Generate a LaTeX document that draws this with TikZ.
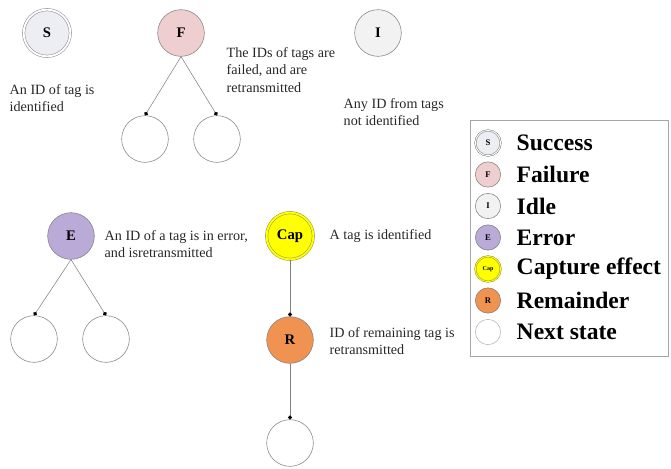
\documentclass[tikz,border=0pt]{standalone}
\usepackage{fontspec}
\setmainfont{Liberation Serif}
\usetikzlibrary{arrows.meta}

\definecolor{sfill}{RGB}{236,238,244}
\definecolor{ffill}{RGB}{238,206,206}
\definecolor{ifill}{RGB}{242,242,242}
\definecolor{efill}{RGB}{186,170,216}
\definecolor{capfill}{RGB}{255,255,0}
\definecolor{rfill}{RGB}{240,146,80}

\begin{document}
\begin{tikzpicture}[x=0.75pt,y=-0.75pt,state/.style={shape=circle,draw=gray,minimum size=35pt,inner sep=0pt,font=\fontsize{11}{13}\selectfont\bfseries},stateS/.style={state,draw=gray!90,double=white,double distance=1.4pt,fill=sfill},stateF/.style={state,fill=ffill},stateI/.style={state,fill=ifill},stateE/.style={state,fill=efill},stateC/.style={state,draw=yellow!55!black,double=capfill,double distance=1.4pt,fill=capfill},stateR/.style={state,fill=rfill},link/.style={draw=gray,-{Circle[length=3pt,black]}},desc/.style={anchor=west,align=left,text=black!85,font=\fontsize{10.6}{12.9}\selectfont},key/.style={shape=circle,draw=gray,minimum size=19pt,inner sep=0pt,font=\fontsize{6.5}{7}\selectfont\bfseries},keytext/.style={anchor=west,font=\fontsize{17.7}{21}\selectfont\bfseries}]
\def\kx{488};
\def\tx{512};
\def\dk{31.5};
\def\ky{143};

\useasboundingbox (0,0) rectangle (671,468);

% success / failure / idle
\node[stateS] (S) at (47,33) {S};
\node[desc] (tS) at (5,98) {An ID of tag is\\identified};

\node[stateF] (F) at (181,33) {F};
\node[desc] (tF) at (222,70) {The IDs of tags are\\failed, and are\\retransmitted};
\node[state] (F1) at (145,139) {};
\draw[link] (F.south) -- (F1.north);
\node[state] (F2) at (217,139) {};
\draw[link] (F.south) -- (F2.north);

\node[stateI] (I) at (378,33) {I};
\node[desc] (tI) at (339,112) {Any ID from tags\\not identified};

% error
\node[stateE] (E) at (71,236) {E};
\node[desc] (tE) at (100,244) {An ID of a tag is in error,\\and isretransmitted};
\node[state] (E1) at (34,339) {};
\draw[link] (E.south) -- (E1.north);
\node[state] (E2) at (106,339) {};
\draw[link] (E.south) -- (E2.north);

% capture effect
\node[stateC] (C) at (290,236) {Cap};
\node[desc] (tC) at (325,236) {A tag is identified};
\node[stateR] (R) at (290,340) {R};
\draw[link] (C.south) -- (R.north);
\node[desc] (tR) at (325,341) {ID of remaining tag is\\retransmitted};
\node[state] (N) at (290,443) {};
\draw[link] (R.south) -- (N.north);

% legend
\node[draw=gray!70,line width=0.9pt,minimum width=148.5pt,minimum height=177pt,anchor=north west] (legend) at (470,120) {};

\node[key,double=white,double distance=0.7pt,fill=sfill] (kS) at (\kx,\ky) {S};
\node[keytext] (lS) at (\tx,\ky) {Success};
\node[key,fill=ffill] (kF) at (\kx,\ky+\dk) {F};
\node[keytext] (lF) at (\tx,\ky+\dk) {Failure};
\node[key,fill=ifill] (kI) at (\kx,\ky+2*\dk) {I};
\node[keytext] (lI) at (\tx,\ky+2*\dk) {Idle};
\node[key,fill=efill] (kE) at (\kx,\ky+3*\dk) {E};
\node[keytext] (lE) at (\tx,\ky+3*\dk) {Error};
\node[key,draw=yellow!55!black,double=capfill,double distance=0.7pt,fill=capfill,font=\fontsize{4.5}{5}\selectfont\bfseries] (kC) at (\kx,\ky+4*\dk) {Cap};
\node[keytext] (lC) at (\tx,\ky+4*\dk) {Capture effect};
\node[key,fill=rfill] (kR) at (\kx,\ky+5*\dk) {R};
\node[keytext] (lR) at (\tx,\ky+5*\dk) {Remainder};
\node[key,draw=gray!60] (kN) at (\kx,\ky+6*\dk) {};
\node[keytext] (lN) at (\tx,\ky+6*\dk) {Next state};
\end{tikzpicture}
\end{document}
